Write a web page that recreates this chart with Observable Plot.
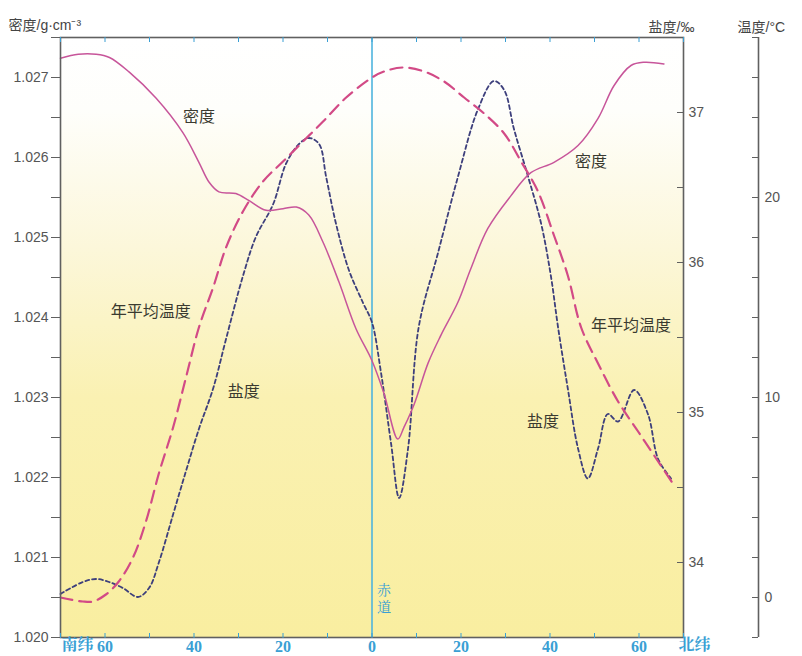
<!DOCTYPE html>
<html><head><meta charset="utf-8">
<script src="https://cdn.jsdelivr.net/npm/d3@7"></script>
<script src="https://cdn.jsdelivr.net/npm/@observablehq/plot@0.6"></script>
<style>
html,body{margin:0;padding:0;background:#fff;}
#chart svg{display:block;}
</style></head><body><div id="chart"></div>
<script>
// ---- data (latitude: south negative, north positive) ----
const densityLat = [-70,-66,-62,-59,-54.6,-48.5,-42.5,-38.9,-36.6,-34.4,-30.6,-27.6,-23.8,-20,-17,-14.2,-11,-7.4,-3.6,0,2.7,5.8,7.2,9.5,12.6,15.5,19.3,22.2,26,31.2,35.7,40.9,46.3,50.8,54.4,58.2,61.1,65.6];
const densityVal = [1.02724,1.02729,1.02729,1.02725,1.02707,1.02674,1.02631,1.02594,1.02569,1.02557,1.02555,1.02546,1.02534,1.02536,1.02538,1.02528,1.02494,1.02444,1.02386,1.02346,1.02305,1.02248,1.02263,1.02292,1.02343,1.02378,1.02419,1.02461,1.02511,1.02552,1.02581,1.02594,1.02615,1.02649,1.0269,1.02715,1.02719,1.02717];

const tempLat = [-70,-65,-62.7,-59.8,-56.9,-53.7,-50.8,-47.9,-44.7,-41.8,-38.9,-35.7,-32.8,-29,-24.5,-20,-15.5,-11,-5.8,0,2.7,7,11.7,16.2,20.7,25.2,29.7,33.5,37.3,40.9,44,47,50.8,55.3,59.8,64.3,67.9];
const tempVal = [0,-0.2,-0.2,0.15,0.8,2.0,3.8,6.2,8.5,11.0,13.5,15.5,17.5,19.3,20.8,21.8,22.8,23.8,25.0,26.0,26.3,26.5,26.3,25.8,25.0,24.2,23.2,21.8,20.3,18.1,16.1,13.5,11.7,9.8,8.3,6.8,5.6];

const salLat = [-70,-65,-62,-59.1,-56,-52.6,-50.1,-47.9,-44.7,-41.8,-38.9,-35.7,-32.8,-29,-26.1,-22.2,-19.3,-16.4,-14.2,-11.9,-10.3,-8.1,-5.2,-2,0,2,4.3,6.1,8.1,10.5,14.8,19.3,23.8,27.4,29.7,31.9,35.1,38,40.2,41.8,44,46.3,48.5,50.8,53,55.3,58.9,62,64.3,67.2];
const salVal = [33.79,33.87,33.89,33.87,33.83,33.77,33.83,34.0,34.32,34.61,34.89,35.16,35.49,35.91,36.17,36.39,36.66,36.79,36.83,36.79,36.57,36.26,35.95,35.73,35.6,35.27,34.79,34.43,34.76,35.57,36.06,36.57,37.02,37.21,37.15,36.89,36.57,36.26,35.91,35.57,35.16,34.76,34.56,34.76,34.99,34.94,35.15,34.99,34.69,34.56];

// ---- scales / ticks ----
const latDomain = [-70, 70];
const densityDomain = [1.020, 1.0275];
const salinityDomain = [33.5, 37.5];
const tempDomain = [-2, 28];

const latTicks = [-70,-60,-50,-40,-30,-20,-10,0,10,20,30,40,50,60,70];
const latLabels = [-60,-40,-20,0,20,40,60];
const densityTicks = [1.020,1.0205,1.021,1.0215,1.022,1.0225,1.023,1.0235,1.024,1.0245,1.025,1.0255,1.026,1.0265,1.027,1.0275];
const densityLabels = [1.020,1.021,1.022,1.023,1.024,1.025,1.026,1.027];
const salinityTicks = [33.5,34,34.5,35,35.5,36,36.5,37,37.5];
const salinityLabels = [34,35,36,37];
const tempTicks = [-2,0,2,4,6,8,10,12,14,16,18,20,22,24,26,28];
const tempLabels = [0,10,20];

const seriesLabels = [
  {text:"密度", lat:-38.9, value:1.02651, series:"density"},
  {text:"密度", lat:49.2, value:1.02594, series:"density"},
  {text:"年平均温度", lat:-49.7, value:14.3, series:"temp"},
  {text:"年平均温度", lat:58.2, value:13.6, series:"temp"},
  {text:"盐度", lat:-28.8, value:35.14, series:"sal"},
  {text:"盐度", lat:38.4, value:34.94, series:"sal"}
];
const equatorLabel = [{lat:0, value:1.02049, text:"赤\n道"}];
const axisTitles = {density:"密度/g·cm⁻³", salinity:"盐度/‰", temp:"温度/°C"};

// ---- conversions into the shared (density) y units ----
const salToD = d3.scaleLinear(salinityDomain, densityDomain);
const tempToD = d3.scaleLinear(tempDomain, densityDomain);
const dToSal = salToD.invert, dToTemp = tempToD.invert;

const density = densityLat.map((lat,i)=>({lat, v:densityVal[i]}));
const temp = tempLat.map((lat,i)=>({lat, v:tempToD(tempVal[i])}));
const sal = salLat.map((lat,i)=>({lat, v:salToD(salVal[i])}));
const conv = {density: v=>v, temp: tempToD, sal: salToD};

const blue = "#3a9fd4";
const axisGray = "#606060";
const cjk = "'Noto Sans CJK SC','Liberation Sans',sans-serif";
const latinFirst = "'Liberation Sans','Noto Sans CJK SC',sans-serif";
const serif = "'Liberation Serif','Noto Serif CJK SC','Noto Sans CJK SC',serif";
const tempAxisOffset = 75;

const plot = Plot.plot({
  width: 802, height: 656,
  marginLeft: 60, marginRight: 119, marginTop: 37, marginBottom: 19,
  style: {fontFamily: latinFirst, fontSize: "14px", color: "#555", background: "transparent", overflow: "visible"},
  x: {domain: latDomain},
  y: {domain: densityDomain},
  marks: [
    Plot.frame({fill: "url(#bgGrad)", stroke: "none"}),
    Plot.ruleX([0], {stroke: "#4fb4de", strokeWidth: 1.6}),
    Plot.line(sal, {x: "lat", y: "v", stroke: "#3d3f7c", strokeWidth: 1.8, strokeDasharray: "4,3", curve: "catmull-rom"}),
    Plot.line(temp, {x: "lat", y: "v", stroke: "#d24a86", strokeWidth: 2.2, strokeDasharray: "12,7", curve: "catmull-rom"}),
    Plot.line(density, {x: "lat", y: "v", stroke: "#c7559a", strokeWidth: 1.5, curve: "catmull-rom"}),
    Plot.text(seriesLabels, {x: "lat", y: d => conv[d.series](d.value), text: "text", fontSize: 16, fontFamily: cjk, fill: "#3a3a30"}),
    Plot.text(equatorLabel, {x: "lat", y: "value", text: "text", dx: 12, fontSize: 14, lineHeight: 1.2, fontFamily: serif, fill: blue}),
    Plot.frame({stroke: axisGray, strokeWidth: 1.6}),
    // x ticks (inside, top & bottom)
    Plot.axisX(latTicks, {anchor: "top", frameAnchor: "bottom", tickSize: 5, fill: "none", stroke: blue, label: null}),
    Plot.axisX(latTicks, {anchor: "bottom", frameAnchor: "top", tickSize: 5, fill: "none", stroke: blue, label: null}),
    Plot.axisX(latLabels, {anchor: "bottom", tickSize: 0, tickPadding: 3, tickFormat: d => Math.abs(d), fill: blue, fontSize: 16, fontWeight: "bold", fontFamily: serif, label: null}),
    Plot.text(["南纬"], {text: d => d, frameAnchor: "bottom-left", textAnchor: "end", dx: 33, dy: 12, fill: blue, fontSize: 16, fontWeight: "bold", fontFamily: serif}),
    Plot.text(["北纬"], {text: d => d, frameAnchor: "bottom-right", textAnchor: "start", dx: -5, dy: 12, fill: blue, fontSize: 16, fontWeight: "bold", fontFamily: serif}),
    // density axis (left)
    Plot.axisY(densityTicks, {anchor: "left", tickSize: 9, fill: "none", stroke: axisGray, label: null}),
    Plot.axisY(densityLabels, {anchor: "left", tickSize: 0, tickPadding: 12, tickFormat: d3.format(".3f"), fill: "#555", fontSize: 14, label: null}),
    // salinity axis (right frame edge, inward ticks)
    Plot.axisY(salinityTicks.map(salToD), {anchor: "left", frameAnchor: "right", tickSize: 6, fill: "none", stroke: axisGray, label: null}),
    Plot.axisY(salinityLabels.map(salToD), {anchor: "right", tickSize: 0, tickPadding: 5, tickFormat: d => Math.round(dToSal(d)), fill: "#555", fontSize: 14, label: null}),
    // temperature axis (detached)
    Plot.ruleX([latDomain[1]], {y1: densityDomain[0], y2: densityDomain[1], dx: tempAxisOffset, stroke: axisGray, strokeWidth: 1.6}),
    Plot.axisY(tempTicks.map(tempToD), {anchor: "left", frameAnchor: "right", dx: tempAxisOffset, tickSize: 6, fill: "none", stroke: axisGray, label: null}),
    Plot.axisY(tempLabels.map(tempToD), {anchor: "right", dx: tempAxisOffset, tickSize: 0, tickPadding: 6, tickFormat: d => Math.round(dToTemp(d)), fill: "#555", fontSize: 14, label: null}),
    // axis titles
    Plot.text([axisTitles.density], {text: d => d, frameAnchor: "top-left", textAnchor: "start", dx: -52, dy: -17, fontSize: 14, fontFamily: latinFirst, fill: "#444"}),
    Plot.text([axisTitles.salinity], {text: d => d, frameAnchor: "top-right", textAnchor: "start", dx: -35, dy: -15, fontSize: 14, fontFamily: latinFirst, fill: "#444"}),
    Plot.text([axisTitles.temp], {text: d => d, frameAnchor: "top-right", textAnchor: "start", dx: 54, dy: -15, fontSize: 14, fontFamily: latinFirst, fill: "#444"})
  ]
});

// background gradient definition
const defs = d3.select(plot).insert("defs", ":first-child");
const grad = defs.append("linearGradient").attr("id", "bgGrad").attr("x1", 0).attr("y1", 0).attr("x2", 0).attr("y2", 1);
[[0,"#ffffff"],[0.12,"#fefefb"],[0.35,"#fcf7da"],[0.6,"#faf1b2"],[1,"#f9eea0"]].forEach(([o,c]) =>
  grad.append("stop").attr("offset", o).attr("stop-color", c));

document.getElementById("chart").append(plot);
</script></body></html>
